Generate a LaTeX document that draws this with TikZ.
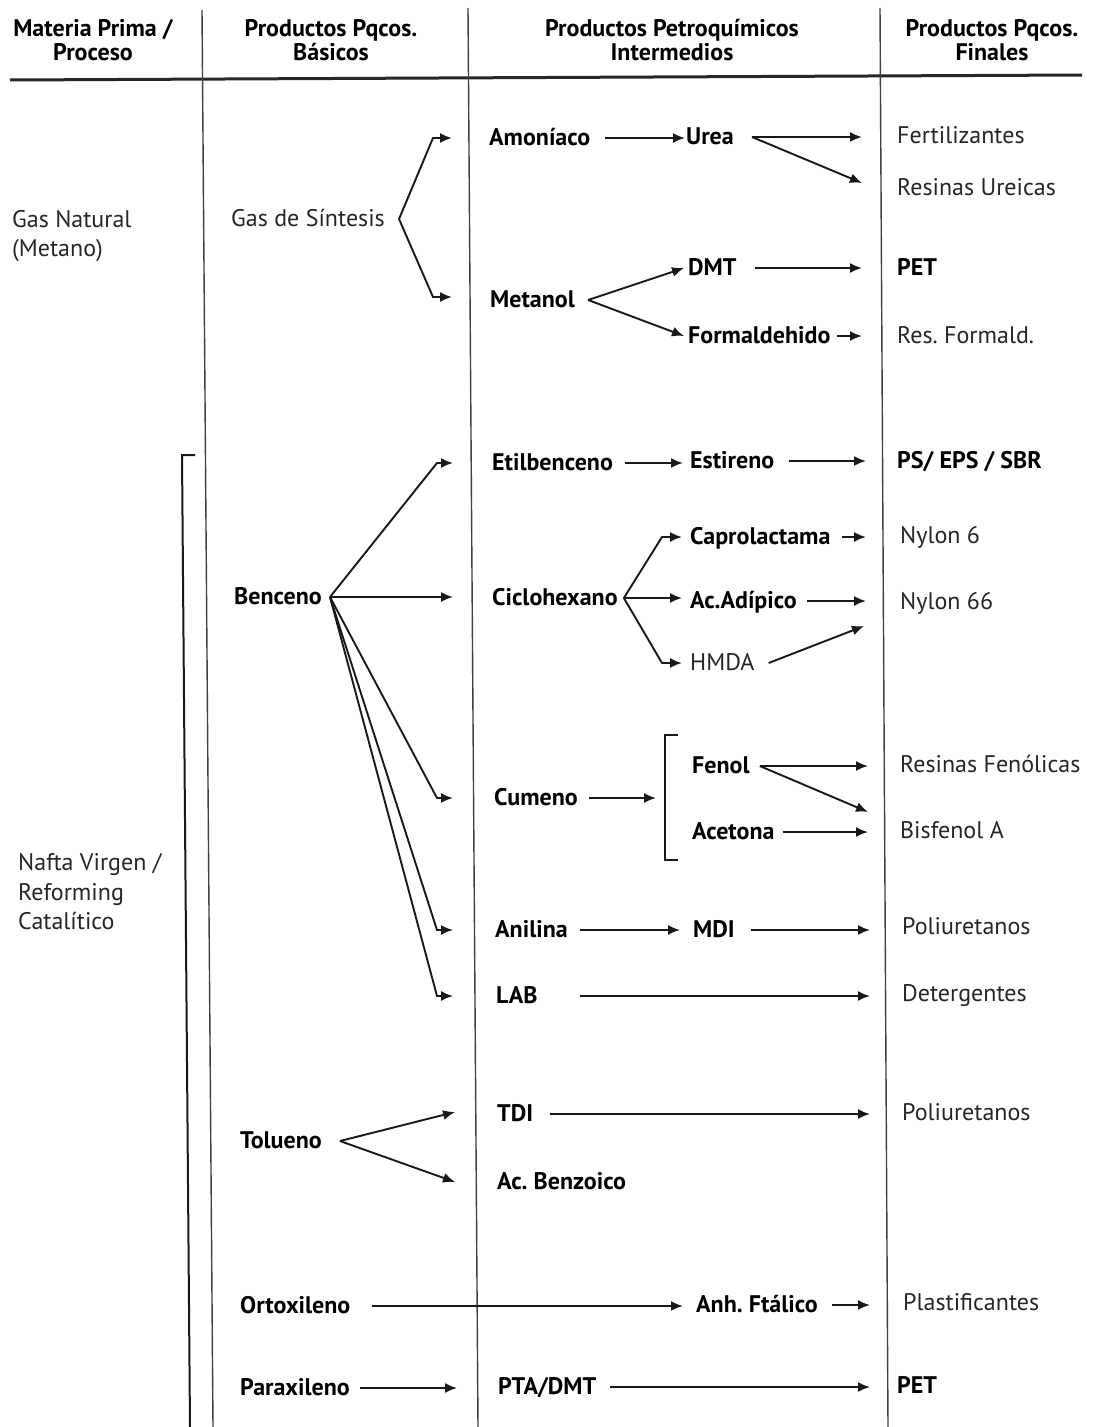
\documentclass[tikz,border=0pt]{standalone}
\usepackage{fontspec}
\setmainfont{PT Sans}
\usetikzlibrary{arrows.meta,calc}
\newcommand\hconn[4]{\draw[arr] ($(#1.mid east)+(#2,0)$) -- ($(#3.mid west |- #1.mid east)+(#4,0)$);}
\begin{document}
\begin{tikzpicture}[x=1pt,y=-1pt,
  low/.style={execute at begin node={\lower4.5pt\hbox\bgroup}, execute at end node={\egroup}},
  lbl/.style={inner sep=0pt, anchor=mid west, font=\fontsize{24}{30}\selectfont, text=black!85, low},
  blbl/.style={inner sep=0pt, anchor=mid west, font=\fontsize{24}{30}\selectfont\bfseries, text=black, low},
  mlbl/.style={inner sep=0pt, anchor=west, align=left, font=\fontsize{24}{29.5}\selectfont, text=black!85},
  hdr/.style={inner sep=0pt, align=center, font=\fontsize{24}{24}\selectfont\bfseries},
  arr/.style={line width=1.9pt, black!90, -{Latex[length=12pt,width=10pt]}},
  plain/.style={line width=1.9pt, black!90},
  rule/.style={line width=1.4pt, black!75}]
\useasboundingbox[fill=white] (0,0) rectangle (1093,1427);

% header
\node[hdr] (h1) at (93,40) {Materia Prima /\\Proceso};
\node[hdr] (h2) at (331,40) {Productos Pqcos.\\Básicos};
\node[hdr] (h3) at (672,40) {Productos Petroquímicos\\Intermedios};
\node[hdr] (h4) at (992,40) {Productos Pqcos.\\Finales};
\draw[line width=3pt, black!85] (10,80) -- (1082,75);
\draw[rule] (202,10) -- (213,1427);
\draw[rule] (468,8) -- (478,1427);
\draw[rule] (880,8) -- (888,1427);
% bracket of column 1
\draw[line width=2pt, black!90] (195,455) -- (182,455) -- (190,1427);

% column 1
\node[mlbl] (gasnat) at (12,236) {Gas Natural\\(Metano)};
\node[mlbl] (nafta) at (18,892) {Nafta Virgen /\\Reforming\\Catalítico};

% column 2
\node[lbl]  (sint) at (231,219) {Gas de Síntesis};
\node[blbl] (benc) at (234,597) {Benceno};
\node[blbl] (tol)  at (240,1141) {Tolueno};
\node[blbl] (orto) at (240,1306) {Ortoxileno};
\node[blbl] (para) at (240,1388) {Paraxileno};

% column 3
\node[blbl] (amon)  at (489,138) {Amoníaco};
\node[blbl] (urea)  at (686,137) {Urea};
\node[blbl] (met)   at (490,300) {Metanol};
\node[blbl] (dmt)   at (688,268) {DMT};
\node[blbl] (form)  at (688,336) {Formaldehido};
\node[blbl] (etil)  at (492,463) {Etilbenceno};
\node[blbl] (est)   at (690,461) {Estireno};
\node[blbl] (cicl)  at (492,598) {Ciclohexano};
\node[blbl] (capro) at (690,537) {Caprolactama};
\node[blbl] (adip)  at (690,601) {Ac.Adípico};
\node[lbl]  (hmda)  at (690,663) {HMDA};
\node[blbl] (cum)   at (494,798) {Cumeno};
\node[blbl] (fenol) at (692,766) {Fenol};
\node[blbl] (acet)  at (692,832) {Acetona};
\node[blbl] (anil)  at (495,930) {Anilina};
\node[blbl] (mdi)   at (693,930) {MDI};
\node[blbl] (lab)   at (496,996) {LAB};
\node[blbl] (tdi)   at (497,1114) {TDI};
\node[blbl] (benz)  at (497,1182) {Ac.\ Benzoico};
\node[blbl] (anh)   at (696,1305) {Anh.\ Ftálico};
\node[blbl] (pta)   at (498,1387) {PTA/DMT};

% column 4
\node[lbl]  (fert)   at (897,136) {Fertilizantes};
\node[lbl]  (resu)   at (897,188) {Resinas Ureicas};
\node[blbl] (pet1)   at (897,268) {PET};
\node[lbl]  (resf)   at (897,336) {Res.\ Formald.};
\node[blbl] (ps)     at (897,461) {PS/ EPS / SBR};
\node[lbl]  (ny6)    at (900,536) {Nylon 6};
\node[lbl]  (ny66)   at (900,602) {Nylon 66};
\node[lbl]  (resfen) at (900,765) {Resinas Fenólicas};
\node[lbl]  (bisf)   at (900,831) {Bisfenol A};
\node[lbl]  (poli1)  at (902,927) {Poliuretanos};
\node[lbl]  (det)    at (902,994) {Detergentes};
\node[lbl]  (poli2)  at (902,1113) {Poliuretanos};
\node[lbl]  (plas)   at (903,1303) {Plastificantes};
\node[blbl] (pet2)   at (897,1386) {PET};

% bracket Fenol / Acetona
\draw[plain] (678,735) -- (665,735) coordinate (brk) -- (665,860) -- (678,860);

% connectors: Gas de Sintesis
\draw[arr] ($(sint.mid east)+(14,0)$) -- ($(amon.mid west)+(-56,0)$) -- ($(amon.mid west)+(-37,0)$);
\draw[arr] ($(sint.mid east)+(14,0)$) -- ($(met.mid west)+(-57,-3)$) -- ($(met.mid west)+(-38,-3)$);
\hconn{amon}{15}{urea}{-1}
\hconn{urea}{18}{fert}{-35}
\draw[arr] ($(urea.mid east)+(18,0)$) -- ($(resu.mid west)+(-35,-5)$);
\draw[arr] ($(met.mid east)+(13,0)$) -- ($(dmt.mid west)+(-4,0)$);
\draw[arr] ($(met.mid east)+(13,0)$) -- ($(form.mid west)+(-4,0)$);
\hconn{dmt}{18}{pet1}{-35}
\hconn{form}{6}{resf}{-35}

% Benceno
\draw[arr] ($(benc.mid east)+(8,0)$) -- ($(etil.mid west)+(-55,0)$) -- ($(etil.mid west)+(-39,0)$);
\hconn{benc}{8}{cicl}{-39}
\draw[arr] ($(benc.mid east)+(8,0)$) -- ($(cum.mid west)+(-57,0)$) -- ($(cum.mid west)+(-41,0)$);
\draw[arr] ($(benc.mid east)+(8,0)$) -- ($(anil.mid west)+(-58,0)$) -- ($(anil.mid west)+(-42,0)$);
\draw[arr] ($(benc.mid east)+(8,0)$) -- ($(lab.mid west)+(-59,0)$) -- ($(lab.mid west)+(-43,0)$);

\hconn{etil}{12}{est}{-7}
\hconn{est}{15}{ps}{-31}

% Ciclohexano
\draw[arr] ($(cicl.mid east)+(6,0)$) -- ($(capro.mid west)+(-28,0)$) -- ($(capro.mid west)+(-8,0)$);
\hconn{cicl}{6}{adip}{-8}
\draw[arr] ($(cicl.mid east)+(6,0)$) -- ($(hmda.mid west)+(-28,0)$) -- ($(hmda.mid west)+(-8,0)$);
\hconn{capro}{11}{ny6}{-34}
\hconn{adip}{10}{ny66}{-34}
\draw[arr] ($(hmda.mid east)+(14,0)$) -- ($(ny66.mid west)+(-36,24)$);

% Cumeno
\draw[arr] ($(cum.mid east)+(11,0)$) -- ($(brk |- cum.mid east)+(-9,0)$);
\hconn{fenol}{10}{resfen}{-32}
\draw[arr] ($(fenol.mid east)+(10,0)$) -- ($(bisf.mid west)+(-32,-19)$);
\hconn{acet}{8}{bisf}{-32}

\hconn{anil}{12}{mdi}{-13}
\hconn{mdi}{16}{poli1}{-32}
\hconn{lab}{42}{det}{-32}

% Tolueno
\draw[arr] ($(tol.mid east)+(18,0)$) -- ($(tdi.mid west)+(-42,-2)$);
\draw[arr] ($(tol.mid east)+(18,0)$) -- ($(benz.mid west)+(-42,0)$);
\hconn{tdi}{17}{poli2}{-32}

% Xilenos
\hconn{orto}{22}{anh}{-13}
\hconn{anh}{14}{plas}{-33}
\hconn{para}{10}{pta}{-41}
\hconn{pta}{14}{pet2}{-27}
\end{tikzpicture}
\end{document}
